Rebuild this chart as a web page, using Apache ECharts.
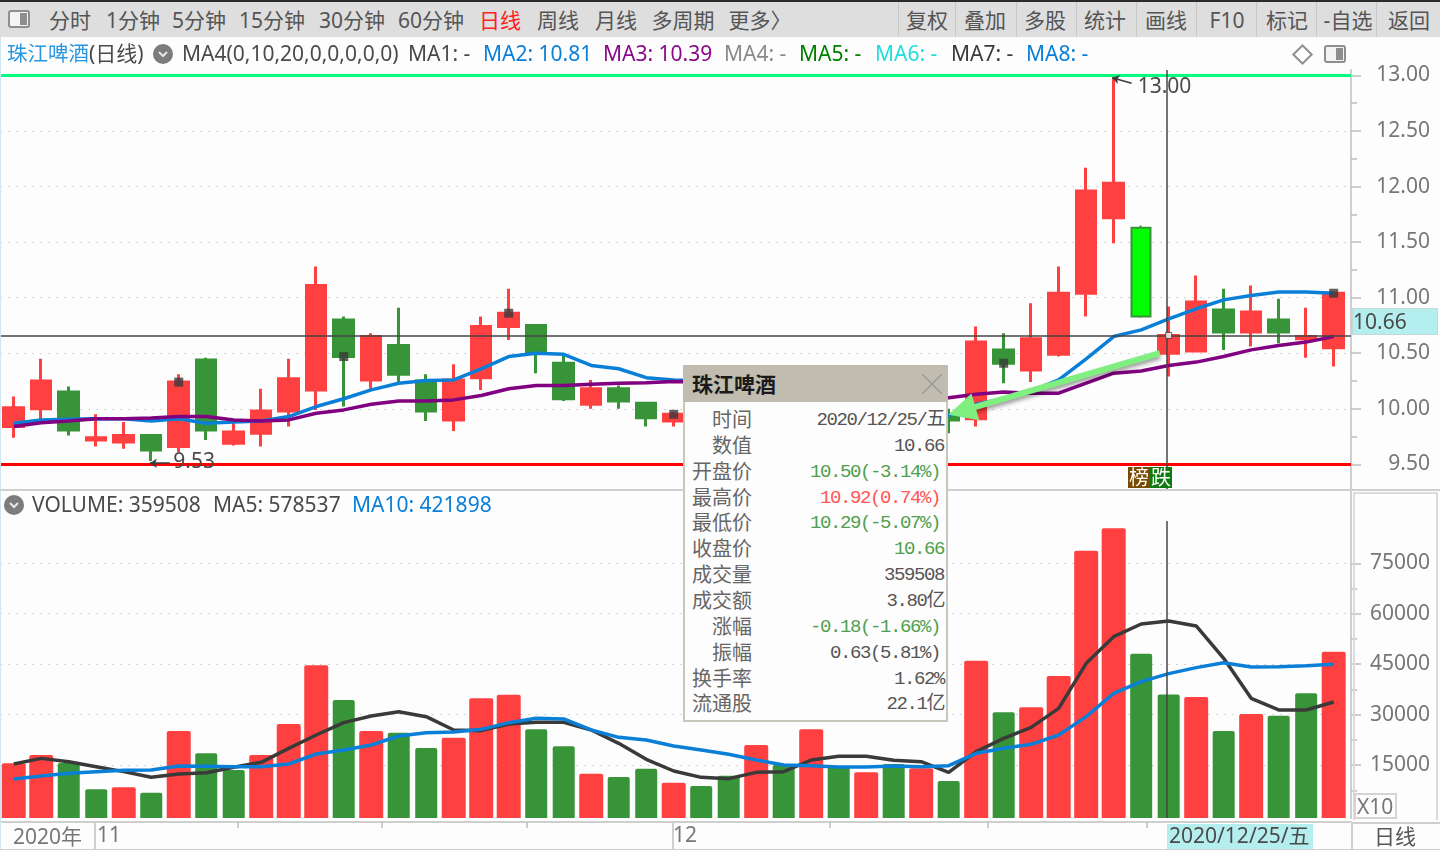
<!DOCTYPE html>
<html>
<head>
<meta charset="utf-8">
<title>珠江啤酒(日线)</title>
<script src="https://cdn.jsdelivr.net/npm/echarts@6/dist/echarts.min.js"></script>
<style>
    html, body { margin: 0; padding: 0; background: #fdfdfd; }
    #page { position: relative; width: 1440px; height: 850px; overflow: hidden; background: #fdfdfd;
        font-family: "Noto Sans", "Noto Sans CJK SC", sans-serif; color: #4a4a4a; }
    #chart { position: absolute; left: 0; top: 0; width: 1440px; height: 850px; }
    #chrome { position: absolute; left: 0; top: 0; width: 1440px; height: 850px; pointer-events: none; }
    .txt { position: absolute; white-space: nowrap; line-height: 1; }
    .box { position: absolute; box-sizing: border-box; }
    #tip { position: absolute; left: 683px; top: 365px; width: 265px; height: 357px; box-sizing: border-box;
        background: #fdfdfd; border: 2px solid #c9c6bc; }
    #tipHead { position: absolute; left: -2px; top: -2px; width: 265px; height: 37px; background: #c0bcb0; }
    .num { font-family: "Liberation Mono", "Noto Sans CJK SC", monospace; letter-spacing: -1.4px; }
</style>
</head>
<body>
<div id="page">
    <div id="chart"></div>
    <div id="chrome"></div>
</div>
<script>
/*---------------------------------------- 行情数据 ---------------------------------------------*/
// 25-33 被信息框挡住, 只是估计值
var openPrices = [9.84, 10.00, 10.15, 9.72, 9.70, 9.76, 9.66, 10.44, 9.69, 9.78, 9.98, 10.17, 10.80, 10.26, 10.57, 10.25, 9.90,
    10.28, 10.74, 10.75, 10.41, 10.04, 10.18, 10.05, 9.89, 9.95, 9.88, 9.80, 9.98, 9.90, 10.12, 10.00, 10.08, 9.96, 9.94,
    9.91, 10.53, 10.35, 10.49, 11.04, 11.72, 11.63, 10.50, 10.52, 10.89, 10.69, 10.80, 10.63, 10.55];
var closePrices = [10.01, 10.25, 9.81, 9.74, 9.76, 9.63, 10.24, 9.81, 9.79, 9.98, 10.27, 11.11, 10.47, 10.65, 10.31, 9.98, 10.26,
    10.74, 10.86, 10.50, 10.09, 10.18, 10.07, 9.92, 9.95, 9.88, 9.80, 9.98, 9.90, 10.12, 10.02, 10.08, 9.98, 10.00, 9.90,
    10.60, 10.41, 10.63, 11.04, 11.96, 12.03, 10.83, 10.66, 10.96, 10.69, 10.87, 10.69, 10.65, 11.04];
var lowPrices = [9.74, 9.90, 9.76, 9.66, 9.64, 9.53, 9.61, 9.72, 9.67, 9.66, 9.84, 9.99, 10.02, 10.18, 10.23, 9.89, 9.80,
    10.17, 10.62, 10.32, 10.07, 10.00, 10.00, 9.84, 9.84, 9.84, 9.77, 9.77, 9.86, 9.88, 9.98, 9.96, 9.94, 9.92, 9.78,
    9.84, 10.23, 10.24, 10.47, 10.83, 11.49, 10.82, 10.29, 10.51, 10.53, 10.56, 10.59, 10.46, 10.38];
var highPrices = [10.11, 10.45, 10.20, 9.95, 9.88, 9.77, 10.31, 10.46, 9.87, 10.18, 10.45, 11.28, 10.83, 10.68, 10.91, 10.31, 10.40,
    10.83, 11.08, 10.76, 10.48, 10.26, 10.21, 10.06, 9.97, 9.99, 9.92, 10.05, 10.02, 10.20, 10.16, 10.12, 10.12, 10.05, 10.00,
    10.74, 10.68, 10.95, 11.28, 12.17, 13.00, 11.65, 10.92, 11.20, 11.08, 11.11, 10.99, 10.91, 11.04];
var ma2Values = [9.87, 9.90, 9.905, 9.91, 9.91, 9.89, 9.91, 9.87, 9.88, 9.89, 9.93, 10.02, 10.09, 10.17, 10.23, 10.255, 10.26,
    10.36, 10.47, 10.50, 10.49, 10.39, 10.36, 10.28, 10.26, 10.25, 10.22, 10.19, 10.16, 10.12, 10.08, 10.04, 10.00, 9.96, 9.94,
    10.04, 10.09, 10.16, 10.26, 10.45, 10.65, 10.71, 10.81, 10.90, 10.98, 11.02, 11.05, 11.05, 11.04];
var ma3Values = [9.84, 9.874, 9.89, 9.91, 9.91, 9.916, 9.93, 9.93, 9.90, 9.89, 9.90, 9.96, 9.99, 10.04, 10.07, 10.07, 10.08,
    10.12, 10.18, 10.21, 10.21, 10.22, 10.23, 10.235, 10.245, 10.24, 10.23, 10.22, 10.20, 10.18, 10.16, 10.14, 10.12, 10.11, 10.10,
    10.13, 10.15, 10.14, 10.14, 10.23, 10.32, 10.34, 10.39, 10.42, 10.47, 10.53, 10.57, 10.60, 10.65];
var volumeValues = [15520, 17990, 15600, 7790, 8390, 6790, 25130, 18500, 13530, 17990, 27210, 44660, 34350, 25130, 24630, 20075, 23130,
    34850, 35940, 25640, 20580, 12430, 11450, 13930, 9765, 8773, 11847, 20966, 15018, 25625, 14523, 12838, 15316, 14027, 10260,
    46040, 30690, 32180, 41490, 78750, 85410, 48120, 35950, 35240, 25130, 30190, 29680, 36340, 48700];
var volumeIsUp = [1, 1, 0, 0, 1, 0, 1, 0, 0, 1, 1, 1, 0, 1, 0, 0, 1,
    1, 1, 0, 0, 1, 0, 0, 1, 0, 0, 1, 0, 1, 0, 1, 0, 1, 0,
    1, 0, 1, 1, 1, 1, 0, 0, 1, 0, 1, 0, 0, 1];
var volMa5Values = [15317, 16990, 16010, 14525, 13040, 11353, 12343, 12740, 14325, 15813, 19977, 23942, 27610, 29592, 30880, 29394, 25429,
    25230, 27213, 27708, 27708, 25429, 21464, 16706, 13234, 11350, 10954, 12838, 13036, 16505, 17596, 17596, 16406, 16010, 12838,
    18987, 22950, 26225, 31870, 45256, 53190, 56950, 57853, 56360, 46740, 34850, 31380, 31380, 33760];
var volMa10Values = [10856, 11748, 12542, 13038, 13434, 13533, 14723, 14624, 14525, 14525, 15318, 18291, 19481, 20968, 23644, 24636, 24834,
    25627, 27610, 28898, 28700, 25429, 23247, 22455, 20669, 19479, 18190, 16505, 15018, 14820, 14424, 14424, 14721, 14523, 14820,
    18490, 19980, 21170, 23940, 29400, 36330, 39800, 42189, 43970, 45450, 44160, 44260, 44560, 44960];
var weekEndIndex = [6, 12, 18, 24, 36, 48];
var highlightIndex = 41;
var crossIndex = 41.93;
var crossPrice = 10.66;
var peakPoint = [40, 13.00];
var troughPoint = [5, 9.53];
var arrowFrom = [41.68, 10.50];
var arrowTo = [34.48, 9.982];

var priceTicks = [9.5, 10, 10.5, 11, 11.5, 12, 12.5, 13];
var priceMinorTicks = [9.75, 10.25, 10.75, 11.25, 11.75, 12.25, 12.75];
var volumeTicks = [15000, 30000, 45000, 60000, 75000];
var volumeMinorTicks = [7500, 22500, 37500, 52500, 67500];
var dateTicks = [8.15, 13.4, 18.66, 29.68, 35.43, 41.2];
var monthLabelAt = [3.03, 23.97];
var monthLabels = ['11', '12'];

/*---------------------------------------- 界面文字 ---------------------------------------------*/
var toolbarTexts = ['分时', '1分钟', '5分钟', '15分钟', '30分钟', '60分钟', '日线', '周线', '月线', '多周期', '更多〉',
    '复权', '叠加', '多股', '统计', '画线', 'F10', '标记', '-自选', '返回'];
var toolbarCenters = [70, 133, 199, 272, 352, 431, 500, 558, 616, 683, 760, 927, 985, 1045, 1105, 1166, 1227, 1287, 1348, 1409];
var toolbarDividers = [898, 955, 1016, 1076, 1136, 1196, 1256, 1316, 1376];
var headerTexts = ['珠江啤酒', '(日线)', 'MA4(0,10,20,0,0,0,0,0)', 'MA1: -', 'MA2: 10.81', 'MA3: 10.39', 'MA4: -', 'MA5: -', 'MA6: -', 'MA7: -', 'MA8: -'];
var headerLefts = [7, 89, 182, 408, 483, 603, 724, 799, 875, 951, 1026];
var headerSizes = [20.5, 21, 21, 21, 21, 21, 21, 21, 21, 21, 21];
var headerColors = ['#2a96e0', '#4a4a4a', '#4a4a4a', '#4a4a4a', '#0a7fd8', '#8a0a8a', '#8a8a8a', '#008000', '#22dddd', '#3a3a3a', '#0a7fd8'];
var volumeHeaderTexts = ['VOLUME: 359508', 'MA5: 578537', 'MA10: 421898'];
var volumeHeaderLefts = [32, 213, 352];
var volumeHeaderColors = ['#4a4a4a', '#4a4a4a', '#0a7fd8'];
var tipLabels = ['时间', '数值', '开盘价', '最高价', '最低价', '收盘价', '成交量', '成交额', '涨幅', '振幅', '换手率', '流通股'];
var tipValues = ['2020/12/25/五', '10.66', '10.50(-3.14%)', '10.92(0.74%)', '10.29(-5.07%)', '10.66', '359508', '3.80亿',
    '-0.18(-1.66%)', '0.63(5.81%)', '1.62%', '22.1亿'];
var tipColors = ['#555', '#555', '#4f9f4f', '#ff5555', '#4f9f4f', '#4f9f4f', '#555', '#555', '#4f9f4f', '#555', '#555', '#555'];

var RED = '#ff4040';
var GREEN = '#389438';
var BLUE = '#0a7fd8';
var PURPLE = '#800080';
var DARK = '#3a3a3a';
var FONT = '"Noto Sans", "Noto Sans CJK SC", sans-serif';

function pairs(values) {
    return values.map(function (v, i) {
        return [i, v];
    });
}

function candleData() {
    return openPrices.map(function (o, i) {
        var item = {value: [i, o, closePrices[i], lowPrices[i], highPrices[i]]};
        if (i === highlightIndex) {
            item.itemStyle = {color0: '#00ff00', borderColor0: GREEN, borderWidth: 2};
        }
        return item;
    });
}

function volumeData() {
    return volumeValues.map(function (v, i) {
        return [i, v, volumeIsUp[i]];
    });
}

// 柱子要画到面板底边, 普通bar只能从0开始
function renderVolumeBar(params, api) {
    var point = api.coord([api.value(0), api.value(1)]);
    var isUp = api.value(2) === 1;
    var width = isUp ? 24 : 22;
    var bottom = params.coordSys.y + params.coordSys.height;
    return {
        type: 'rect',
        shape: {x: point[0] - width / 2, y: point[1], width: width, height: bottom - point[1], r: [2, 2, 0, 0]},
        style: {fill: isUp ? RED : GREEN}
    };
}

function yAxisMajor(gridIndex, min, max, ticks, formatter) {
    return {
        type: 'value',
        gridIndex: gridIndex,
        position: 'right',
        min: min,
        max: max,
        axisLine: {show: true, onZero: false, lineStyle: {color: '#cfcfcf', width: 2}},
        axisTick: {show: true, length: 10, customValues: ticks, lineStyle: {color: '#bdbdbd', width: 1.5}},
        axisLabel: {customValues: ticks, align: 'right', margin: 79, color: '#777', fontFamily: FONT, fontSize: 21, formatter: formatter},
        splitLine: {show: true, lineStyle: {color: '#d4d4d4', type: [2, 6], width: 1}}
    };
}

function yAxisMinor(gridIndex, min, max, ticks) {
    return {
        type: 'value',
        gridIndex: gridIndex,
        position: 'right',
        min: min,
        max: max,
        axisLine: {show: false, onZero: false},
        axisTick: {show: true, length: 6, customValues: ticks, lineStyle: {color: '#bdbdbd', width: 1.5}},
        axisLabel: {show: false},
        splitLine: {show: false}
    };
}

function lineSeries(name, xIdx, yIdx, values, color) {
    return {
        name: name,
        type: 'line',
        xAxisIndex: xIdx,
        yAxisIndex: yIdx,
        data: pairs(values),
        showSymbol: false,
        silent: true,
        z: 5,
        lineStyle: {color: color, width: 3.5}
    };
}

var priceMin = 9.278;
var priceMax = 13.049;
var volMin = -743;
var volMax = 96800;

var option = {
    animation: false,
    backgroundColor: 'transparent',
    grid: [
        {left: 0, top: 70, width: 1351, height: 419},
        {left: 0, top: 490, width: 1351, height: 328}
    ],
    xAxis: [
        {type: 'value', gridIndex: 0, min: -0.5, max: 48.63, show: false},
        {
            type: 'value',
            gridIndex: 1,
            min: -0.5,
            max: 48.63,
            offset: 4,
            splitLine: {show: false},
            axisLine: {show: true, onZero: false, lineStyle: {color: '#cfcfcf', width: 2}},
            axisTick: {show: true, length: 6, customValues: dateTicks, lineStyle: {color: '#bdbdbd', width: 1.5}},
            axisLabel: {
                customValues: monthLabelAt,
                align: 'left',
                margin: 4,
                color: '#777',
                fontFamily: FONT,
                fontSize: 21,
                formatter: function (value) {
                    return monthLabels[monthLabelAt.indexOf(value)];
                }
            }
        }
    ],
    yAxis: [
        yAxisMajor(0, priceMin, priceMax, priceTicks, function (v) {
            return v.toFixed(2);
        }),
        yAxisMinor(0, priceMin, priceMax, priceMinorTicks),
        yAxisMajor(1, volMin, volMax, volumeTicks, function (v) {
            return String(v);
        }),
        yAxisMinor(1, volMin, volMax, volumeMinorTicks)
    ],
    series: [
        {
            name: 'K线',
            type: 'candlestick',
            xAxisIndex: 0,
            yAxisIndex: 0,
            data: candleData(),
            barWidth: 20,
            silent: true,
            z: 3,
            itemStyle: {color: RED, color0: GREEN, borderColor: RED, borderColor0: GREEN, borderWidth: 3},
            markLine: {
                silent: true,
                animation: false,
                symbol: 'none',
                label: {show: false},
                z: 4,
                data: [
                    {yAxis: priceTicks[7], lineStyle: {color: '#00ff7f', width: 3, type: 'solid'}},
                    {yAxis: priceTicks[0], lineStyle: {color: '#ff0000', width: 3, type: 'solid'}}
                ]
            }
        },
        lineSeries('MA2', 0, 0, ma2Values, BLUE),
        lineSeries('MA3', 0, 0, ma3Values, PURPLE),
        {
            name: '周收盘',
            type: 'scatter',
            xAxisIndex: 0,
            yAxisIndex: 0,
            symbol: 'rect',
            symbolSize: 9,
            silent: true,
            z: 6,
            itemStyle: {color: DARK},
            data: weekEndIndex.map(function (i) {
                return [i, closePrices[i]];
            })
        },
        {
            name: '十字线',
            type: 'line',
            xAxisIndex: 0,
            yAxisIndex: 0,
            data: [],
            silent: true,
            z: 7,
            markLine: {
                silent: true,
                animation: false,
                symbol: 'none',
                z: 7,
                label: {show: false},
                lineStyle: {color: '#444', width: 1.5, type: 'solid'},
                data: [
                    {yAxis: crossPrice},
                    [{coord: [crossIndex, priceMax]}, {coord: [crossIndex, priceMin]}]
                ]
            }
        },
        {
            name: '十字点',
            type: 'scatter',
            xAxisIndex: 0,
            yAxisIndex: 0,
            symbol: 'rect',
            symbolSize: 6,
            silent: true,
            z: 8,
            itemStyle: {color: '#fdfdfd', borderColor: DARK, borderWidth: 1},
            data: [[42, crossPrice]]
        },
        {
            name: '箭头',
            type: 'line',
            xAxisIndex: 0,
            yAxisIndex: 0,
            data: [],
            silent: true,
            z: 8,
            markLine: {
                silent: true,
                animation: false,
                z: 9,
                symbol: ['none', 'triangle'],
                symbolSize: 28,
                label: {show: false},
                lineStyle: {
                    color: '#7ff07f', width: 6, type: 'solid',
                    shadowColor: 'rgba(0,0,0,0.4)', shadowBlur: 4, shadowOffsetY: 3
                },
                data: [[{coord: arrowFrom}, {coord: arrowTo}]]
            }
        },
        {
            name: '极值',
            type: 'line',
            xAxisIndex: 0,
            yAxisIndex: 0,
            data: [],
            silent: true,
            z: 8,
            markLine: {
                silent: true,
                animation: false,
                z: 8,
                symbol: ['arrow', 'none'],
                symbolSize: 7,
                label: {show: false},
                lineStyle: {color: DARK, width: 1.5, type: 'solid'},
                data: [
                    [{coord: [peakPoint[0] - 0.05, peakPoint[1] - 0.02]}, {coord: [peakPoint[0] + 0.65, peakPoint[1] - 0.07]}],
                    [{coord: [troughPoint[0] - 0.05, troughPoint[1] - 0.02]}, {coord: [troughPoint[0] + 0.67, troughPoint[1] - 0.02]}]
                ]
            },
            markPoint: {
                silent: true,
                animation: false,
                symbol: 'circle',
                symbolSize: 0,
                data: [
                    {coord: peakPoint, label: {formatter: peakPoint[1].toFixed(2), offset: [19, 12]}},
                    {coord: troughPoint, label: {formatter: String(troughPoint[1]), offset: [17, 1]}}
                ],
                label: {show: true, position: 'right', color: '#4a4a4a', fontFamily: FONT, fontSize: 21}
            }
        },
        {
            name: 'VOLUME',
            type: 'custom',
            xAxisIndex: 1,
            yAxisIndex: 2,
            data: volumeData(),
            encode: {x: 0, y: 1},
            renderItem: renderVolumeBar,
            silent: true,
            z: 3
        },
        lineSeries('MA5', 1, 2, volMa5Values, DARK),
        lineSeries('MA10', 1, 2, volMa10Values, BLUE),
        {
            name: '十字线2',
            type: 'line',
            xAxisIndex: 1,
            yAxisIndex: 2,
            data: [],
            silent: true,
            z: 7,
            markLine: {
                silent: true,
                animation: false,
                symbol: 'none',
                z: 7,
                label: {show: false},
                lineStyle: {color: '#444', width: 1.5, type: 'solid'},
                data: [[{coord: [crossIndex, 87600]}, {coord: [crossIndex, volMin]}]]
            }
        }
    ]
};

var chart = echarts.init(document.getElementById('chart'));
chart.setOption(option);

/*---------------------------------------- 外框和文字 ---------------------------------------------*/
var chrome = document.getElementById('chrome');

function addBox(x, y, w, h, css) {
    var el = document.createElement('div');
    el.className = 'box';
    el.style.cssText = 'left:' + x + 'px;top:' + y + 'px;width:' + w + 'px;height:' + h + 'px;' + (css || '');
    chrome.appendChild(el);
    return el;
}

// anchor: left / center / right
function addText(parent, text, x, cy, size, color, anchor, extra) {
    var el = document.createElement('span');
    el.className = 'txt';
    el.textContent = text;
    var tx = anchor === 'center' ? '-50%' : (anchor === 'right' ? '-100%' : '0');
    el.style.cssText = 'left:' + x + 'px;top:' + cy + 'px;font-size:' + size + 'px;color:' + color +
        ';transform:translate(' + tx + ',-50%);' + (extra || '');
    parent.appendChild(el);
    return el;
}

function addPanelIcon(x, y) {
    addBox(x, y, 22, 18, 'border:2px solid #8e8e8e;border-radius:3px;background:#f4f4f4;');
    addBox(x + 12, y + 3, 7, 12, 'background:#8e8e8e;');
}

function addRoundIcon(cx, cy) {
    var el = addBox(cx - 10, cy - 10, 20, 20, 'border-radius:50%;background:#7c7c7c;');
    el.innerHTML = '<svg width="20" height="20"><path d="M6 8 L10 12 L14 8" fill="none" stroke="#e8e8e8" stroke-width="2"/></svg>';
}

// 顶部工具条
addBox(0, 0, 1440, 2, 'background:#2a2a2a;');
addBox(0, 2, 1440, 35, 'background:#dedede;');
addPanelIcon(8, 10);
toolbarDividers.forEach(function (x) {
    addBox(x, 2, 1, 35, 'background:#c8c8c8;');
});
toolbarTexts.forEach(function (t, i) {
    addText(chrome, t, toolbarCenters[i], 20, 21, t === '日线' ? '#ff2020' : '#555', 'center');
});

// K线标题行
headerTexts.forEach(function (t, i) {
    addText(chrome, t, headerLefts[i], 53, headerSizes[i], headerColors[i], 'left');
});
addRoundIcon(163, 54);
addBox(1295, 47, 15, 15, 'border:2px solid #8e8e8e;transform:rotate(45deg);');
addPanelIcon(1324, 45);

// 成交量标题行
addRoundIcon(14, 505);
volumeHeaderTexts.forEach(function (t, i) {
    addText(chrome, t, volumeHeaderLefts[i], 504, 21, volumeHeaderColors[i], 'left');
});

// 分隔线
addBox(0, 37, 1, 813, 'background:#cfe8ef;');
addBox(0, 489, 1440, 2, 'background:#cfcfcf;');
addBox(1353, 492, 85, 328, 'border:2px solid #dcdcdc;border-bottom:none;');
addBox(1351, 822, 2, 28, 'background:#cfcfcf;');
addBox(0, 849, 1440, 1, 'background:#cfcfcf;');
addBox(1353, 822, 87, 2, 'background:#cfcfcf;');
addBox(94, 822, 2, 28, 'background:#cfcfcf;');
addBox(672, 822, 2, 28, 'background:#cfcfcf;');

// 当前价, 日期, 底栏
addBox(1352, 308, 86, 27, 'background:#b5eeee;border:1px solid #c5d8d8;');
addText(chrome, '10.66', 1353, 321, 21, '#4a4a4a', 'left');
addBox(1167, 824, 146, 25, 'background:#b5eeee;');
addText(chrome, '2020/12/25/五', 1169, 835, 21, '#4a4a4a', 'left');
addText(chrome, '2020年', 13, 836, 21, '#777', 'left');
addText(chrome, '日线', 1395, 836, 21, '#555', 'center');
addBox(1354, 793, 43, 26, 'border:2px solid #d4d4d4;');
addText(chrome, 'X10', 1357, 806, 21, '#777', 'left');

// 榜 跌 标记
addBox(1128, 467, 22, 21, 'background:#7a4a00;');
addBox(1150, 467, 22, 21, 'background:#0f7a0f;');
addText(chrome, '榜', 1139, 478, 20, '#fff', 'center');
addText(chrome, '跌', 1161, 478, 20, '#fff', 'center');

/*---------------------------------------- 信息框 ---------------------------------------------*/
var tip = document.createElement('div');
tip.id = 'tip';
tip.innerHTML = '<div id="tipHead"></div>';
chrome.appendChild(tip);
addText(tip, '珠江啤酒', 7, 17, 21, '#1a1a1a', 'left', 'font-weight:700;');
var closeIcon = document.createElement('div');
closeIcon.style.cssText = 'position:absolute;left:236px;top:6px;';
closeIcon.innerHTML = '<svg width="22" height="22"><path d="M1 1 L21 21 M21 1 L1 21" stroke="#9a9a9a" stroke-width="1.5" fill="none"/></svg>';
tip.appendChild(closeIcon);

tipLabels.forEach(function (label, i) {
    var cy = 53 + i * 25.85;
    addText(tip, label, 67, cy, 20, '#666', 'right');
    var right = tipValues[i].slice(-1) === ')' ? 255 : 259;
    var value = addText(tip, tipValues[i], right, cy, 19, tipColors[i], 'right');
    value.className = 'txt num';
});
</script>
</body>
</html>
